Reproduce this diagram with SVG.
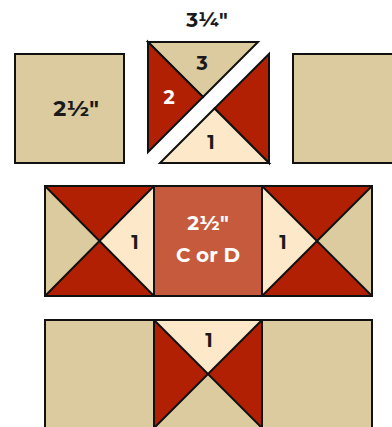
<svg xmlns="http://www.w3.org/2000/svg" width="392" height="427" viewBox="0 0 392 427">
<style>
.tan{fill:#dbcb9f}
.red{fill:#b22004}
.cream{fill:#fde9c9}
.ctr{fill:#c55a3c}
.s{stroke:#111;stroke-width:2;stroke-linejoin:miter}
.ln{stroke:#111;stroke-width:2;fill:none}
text{font-family:"Montserrat","Liberation Sans","DejaVu Sans",sans-serif;font-weight:bold;text-anchor:middle}
.k{fill:#1a1a1a}
.w{fill:#fff}
</style>
<rect width="392" height="427" fill="#fff"/>
<g id="top-left-square">
<rect x="15" y="54" width="109" height="109" class="tan s"/>
<text x="76" y="116" font-size="22" class="k">2½"</text>
</g>
<g id="top-label">
<text x="207" y="27" font-size="20" class="k">3¼"</text>
</g>
<g id="triangle-upper">
<polygon points="148,42 258,42 203,97" class="tan s"/>
<polygon points="148,42 203,97 148,152" class="red s"/>
<text x="202" y="70" font-size="19" class="k">3</text>
<text x="169" y="104" font-size="19" class="w">2</text>
</g>
<g id="triangle-lower">
<polygon points="269,54 269,163 214.5,108.5" class="red s"/>
<polygon points="160,163 269,163 214.5,108.5" class="cream s"/>
<text x="211" y="149" font-size="19" class="k">1</text>
</g>
<g id="top-right-square">
<rect x="293" y="54" width="110" height="109" class="tan s"/>
</g>
<g id="mid-left-block">
<polygon points="45,186 154,186 99.5,241" class="red"/>
<polygon points="45,296 154,296 99.5,241" class="red"/>
<polygon points="45,186 45,296 99.5,241" class="tan"/>
<polygon points="154,186 154,296 99.5,241" class="cream"/>
<line x1="45" y1="186" x2="154" y2="296" class="ln"/>
<line x1="154" y1="186" x2="45" y2="296" class="ln"/>
<rect x="45" y="186" width="109" height="110" class="ln"/>
<text x="135" y="249" font-size="19" class="k">1</text>
</g>
<g id="mid-center-block">
<rect x="154" y="186" width="108" height="110" class="ctr s"/>
<text x="208" y="230" font-size="20" class="w">2½"</text>
<text x="208" y="262" font-size="20" class="w">C or D</text>
</g>
<g id="mid-right-block">
<polygon points="262,186 372,186 317,241" class="red"/>
<polygon points="262,296 372,296 317,241" class="red"/>
<polygon points="262,186 262,296 317,241" class="cream"/>
<polygon points="372,186 372,296 317,241" class="tan"/>
<line x1="262" y1="186" x2="372" y2="296" class="ln"/>
<line x1="372" y1="186" x2="262" y2="296" class="ln"/>
<rect x="262" y="186" width="110" height="110" class="ln"/>
<text x="283" y="249" font-size="19" class="k">1</text>
</g>
<g id="bottom-left-square">
<rect x="45" y="320" width="109" height="112" class="tan s"/>
</g>
<g id="bottom-center-block">
<polygon points="154,320 262,320 208,374" class="cream"/>
<polygon points="154,320 154,428 208,374" class="red"/>
<polygon points="262,320 262,428 208,374" class="red"/>
<polygon points="154,428 262,428 208,374" class="tan"/>
<line x1="154" y1="320" x2="262" y2="428" class="ln"/>
<line x1="262" y1="320" x2="154" y2="428" class="ln"/>
<rect x="154" y="320" width="108" height="112" class="ln"/>
<text x="209" y="347" font-size="19" class="k">1</text>
</g>
<g id="bottom-right-square">
<rect x="262" y="320" width="110" height="112" class="tan s"/>
</g>
</svg>
